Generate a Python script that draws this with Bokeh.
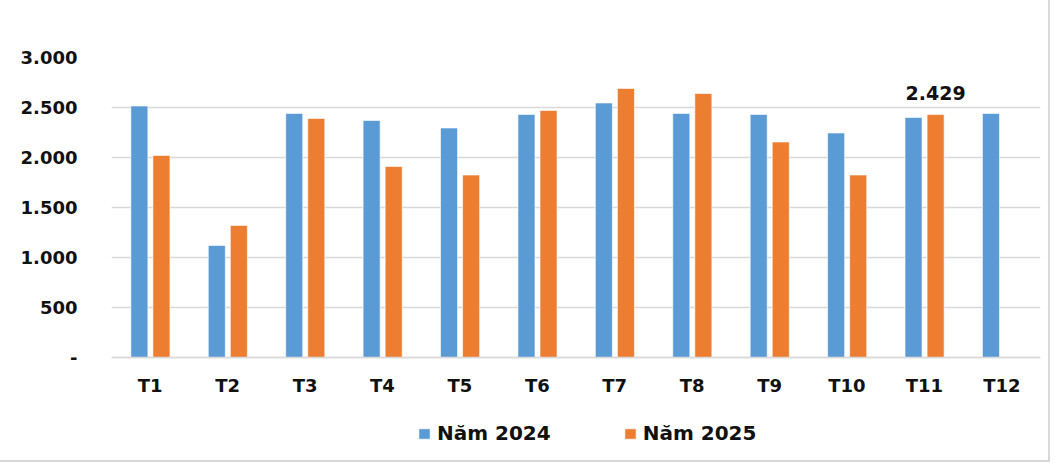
from bokeh.plotting import figure
from bokeh.models import (FactorRange, Range1d, FixedTicker, Legend, LegendItem,
                          ColumnDataSource)
from bokeh.transform import dodge
from bokeh.core.properties import value
from bokeh.embed import file_html
from bokeh.resources import INLINE

# ---- data ----
months = ["T1", "T2", "T3", "T4", "T5", "T6", "T7", "T8", "T9", "T10", "T11", "T12"]
values_2024 = [2515, 1120, 2440, 2370, 2295, 2430, 2545, 2440, 2430, 2245, 2400, 2440]
months_2025 = ["T1", "T2", "T3", "T4", "T5", "T6", "T7", "T8", "T9", "T10", "T11"]
values_2025 = [2020, 1320, 2390, 1910, 1825, 2470, 2690, 2640, 2155, 1825, 2429]
series_names = ["Năm 2024", "Năm 2025"]
y_ticks = [0, 500, 1000, 1500, 2000, 2500, 3000]
y_tick_labels = ["-", "500", "1.000", "1.500", "2.000", "2.500", "3.000"]
label_months = ["T11"]
label_values = [2429]
label_texts = ["2.429"]

BLUE = "#5B9BD5"
ORANGE = "#ED7D31"
GRID = "#d9d9d9"
FONT = "DejaVu Sans"

src24 = ColumnDataSource(dict(m=months, v=values_2024))
src25 = ColumnDataSource(dict(m=months_2025, v=values_2025))
srclab = ColumnDataSource(dict(m=label_months, v=label_values, t=label_texts))

# frame extends below zero so the legend area lies inside it (not clipped)
p = figure(x_range=FactorRange(*months), y_range=Range1d(-930, 3000),
           width=1046, height=458, output_backend="svg", toolbar_location=None,
           min_border_left=111, min_border_right=6, min_border_top=57,
           min_border_bottom=8)
p.styles = {"outline": "2px solid #d9d9d9", "outline-offset": "2px"}
p.outline_line_color = None
p.background_fill_color = "white"
p.border_fill_color = "white"

r24 = p.vbar(x=dodge("m", -0.14, range=p.x_range), top="v", bottom=0, width=0.22,
             source=src24, fill_color=BLUE, line_color="white", line_width=0.6)
r25 = p.vbar(x=dodge("m", 0.145, range=p.x_range), top="v", bottom=0, width=0.22,
             source=src25, fill_color=ORANGE, line_color="white", line_width=0.6)

p.text(x=dodge("m", 0.145, range=p.x_range), y="v", text="t", source=srclab,
       text_font=value(FONT), text_font_style="bold", text_font_size="19px",
       text_color="#111111", text_align="center", text_baseline="bottom",
       y_offset=-15)

# axes
p.yaxis.ticker = FixedTicker(ticks=y_ticks)
p.yaxis.major_label_overrides = {t: l for t, l in zip(y_ticks, y_tick_labels)}
p.yaxis.axis_line_color = None
p.yaxis.major_tick_line_color = None
p.yaxis.minor_tick_line_color = None
p.yaxis.major_label_standoff = 28
p.yaxis.major_label_text_font = FONT
p.yaxis.major_label_text_font_style = "bold"
p.yaxis.major_label_text_font_size = "18px"
p.yaxis.major_label_text_color = "#111111"

p.xaxis.fixed_location = 0
p.xaxis.axis_line_color = GRID
p.xaxis.axis_line_width = 1.5
p.xaxis.major_tick_line_color = None
p.xaxis.minor_tick_line_color = None
p.xaxis.major_label_standoff = 11
p.xaxis.major_label_text_font = FONT
p.xaxis.major_label_text_font_style = "bold"
p.xaxis.major_label_text_font_size = "18px"
p.xaxis.major_label_text_color = "#111111"

p.xgrid.grid_line_color = None
p.ygrid.ticker = FixedTicker(ticks=y_ticks)
p.ygrid.grid_line_color = GRID
p.ygrid.grid_line_width = 1.5

legend = Legend(items=[LegendItem(label=series_names[0], renderers=[r24]),
                       LegendItem(label=series_names[1], renderers=[r25])],
                orientation="horizontal", location=(306, 5),
                glyph_width=14, glyph_height=13, label_standoff=6, spacing=72,
                padding=0, margin=0, border_line_color=None,
                background_fill_alpha=0,
                label_text_font=FONT, label_text_font_style="bold",
                label_text_font_size="20px", label_text_color="#111111")
p.add_layout(legend, "center")

open("out.html", "w").write(file_html(p, INLINE))
